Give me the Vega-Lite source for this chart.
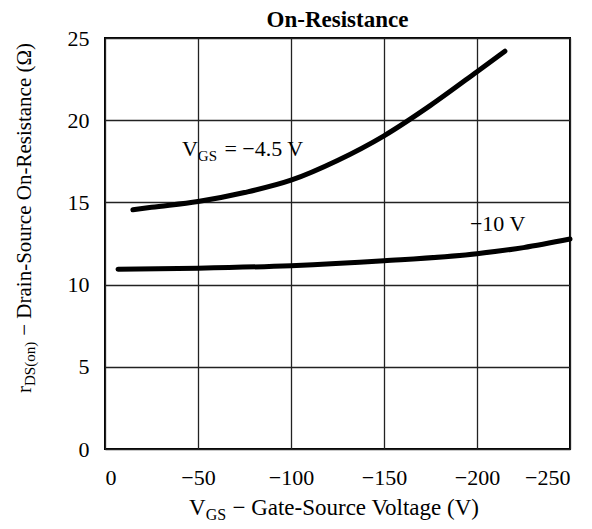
{
  "$schema": "https://vega.github.io/schema/vega-lite/v6.json",
  "autosize": {"type": "none"},
  "padding": {"left": 105, "top": 38, "right": 22, "bottom": 80},
  "width": 465,
  "height": 411,
  "background": "white",
  "config": {
    "font": "Liberation Serif",
    "view": {"stroke": "black", "strokeWidth": 2},
    "axis": {
      "labelFont": "Liberation Serif",
      "labelFontSize": 22,
      "labelColor": "black",
      "ticks": false,
      "domain": false,
      "grid": true,
      "gridColor": "#222",
      "gridWidth": 1.3,
      "gridOpacity": 1,
      "title": null
    }
  },
  "title": {
    "text": "On-Resistance",
    "font": "Liberation Serif",
    "fontSize": 23,
    "fontWeight": "bold",
    "color": "black",
    "anchor": "middle",
    "offset": 4,
    "dy": 9
  },
  "datasets": {
    "curves": [
      {"series": "-4.5", "v": -15, "r": 14.55},
      {"series": "-4.5", "v": -25, "r": 14.7},
      {"series": "-4.5", "v": -50, "r": 15.05},
      {"series": "-4.5", "v": -75, "r": 15.6},
      {"series": "-4.5", "v": -100, "r": 16.35},
      {"series": "-4.5", "v": -125, "r": 17.55},
      {"series": "-4.5", "v": -150, "r": 19.05},
      {"series": "-4.5", "v": -175, "r": 20.9},
      {"series": "-4.5", "v": -200, "r": 22.95},
      {"series": "-4.5", "v": -215, "r": 24.2},
      {"series": "-10", "v": -7, "r": 10.94},
      {"series": "-10", "v": -50, "r": 11.0},
      {"series": "-10", "v": -100, "r": 11.15},
      {"series": "-10", "v": -150, "r": 11.45},
      {"series": "-10", "v": -200, "r": 11.88},
      {"series": "-10", "v": -225, "r": 12.25},
      {"series": "-10", "v": -250, "r": 12.77}
    ],
    "mainText": [
      {"x": -41.4, "y": 17.82, "t": "V"},
      {"x": -64.2, "y": 17.82, "t": "= \u22124.5 V"},
      {"x": -196.2, "y": 13.25, "t": "\u221210 V"}
    ],
    "subText": [
      {"x": -49.9, "y": 17.5, "t": "GS"}
    ],
    "xTitleMain": [
      {"x": -45.2, "y": -4.0, "t": "V"},
      {"x": -68.5, "y": -4.0, "t": "\u2212\u00a0Gate-Source Voltage (V)"}
    ],
    "xTitleSub": [
      {"x": -54.1, "y": -4.3, "t": "GS"}
    ],
    "yTitleMain": [
      {"x": 39.8, "y": 3.41, "t": "r"},
      {"x": 39.8, "y": 6.89, "t": "\u2212\u00a0Drain-Source On-Resistance (\u03a9)"}
    ],
    "yTitleSub": [
      {"x": 37.6, "y": 3.83, "t": "DS(on)"}
    ]
  },
  "encoding": {
    "x": {
      "type": "quantitative",
      "scale": {"domain": [0, -250], "nice": false, "zero": false},
      "axis": {"values": [0, -50, -100, -150, -200, -250], "labelPadding": 18}
    },
    "y": {
      "type": "quantitative",
      "scale": {"domain": [0, 25], "nice": false},
      "axis": {"values": [0, 5, 10, 15, 20, 25], "labelPadding": 16}
    }
  },
  "layer": [
    {
      "data": {"name": "curves"},
      "mark": {"type": "line", "color": "black", "strokeWidth": 5, "interpolate": "monotone", "strokeCap": "round"},
      "encoding": {
        "x": {"field": "v"},
        "y": {"field": "r"},
        "detail": {"field": "series"}
      }
    },
    {
      "data": {"name": "mainText"},
      "mark": {"type": "text", "font": "Liberation Serif", "fontSize": 22, "align": "left", "baseline": "alphabetic", "color": "black"},
      "encoding": {"x": {"field": "x"}, "y": {"field": "y"}, "text": {"field": "t"}}
    },
    {
      "data": {"name": "subText"},
      "mark": {"type": "text", "font": "Liberation Serif", "fontSize": 15, "align": "left", "baseline": "alphabetic", "color": "black"},
      "encoding": {"x": {"field": "x"}, "y": {"field": "y"}, "text": {"field": "t"}}
    },
    {
      "data": {"name": "xTitleMain"},
      "mark": {"type": "text", "font": "Liberation Serif", "fontSize": 23, "align": "left", "baseline": "alphabetic", "color": "black"},
      "encoding": {"x": {"field": "x"}, "y": {"field": "y"}, "text": {"field": "t"}}
    },
    {
      "data": {"name": "xTitleSub"},
      "mark": {"type": "text", "font": "Liberation Serif", "fontSize": 16, "align": "left", "baseline": "alphabetic", "color": "black"},
      "encoding": {"x": {"field": "x"}, "y": {"field": "y"}, "text": {"field": "t"}}
    },
    {
      "data": {"name": "yTitleMain"},
      "mark": {"type": "text", "font": "Liberation Serif", "fontSize": 21, "align": "left", "baseline": "alphabetic", "angle": 270, "color": "black"},
      "encoding": {"x": {"field": "x"}, "y": {"field": "y"}, "text": {"field": "t"}}
    },
    {
      "data": {"name": "yTitleSub"},
      "mark": {"type": "text", "font": "Liberation Serif", "fontSize": 15, "align": "left", "baseline": "alphabetic", "angle": 270, "color": "black"},
      "encoding": {"x": {"field": "x"}, "y": {"field": "y"}, "text": {"field": "t"}}
    }
  ]
}
